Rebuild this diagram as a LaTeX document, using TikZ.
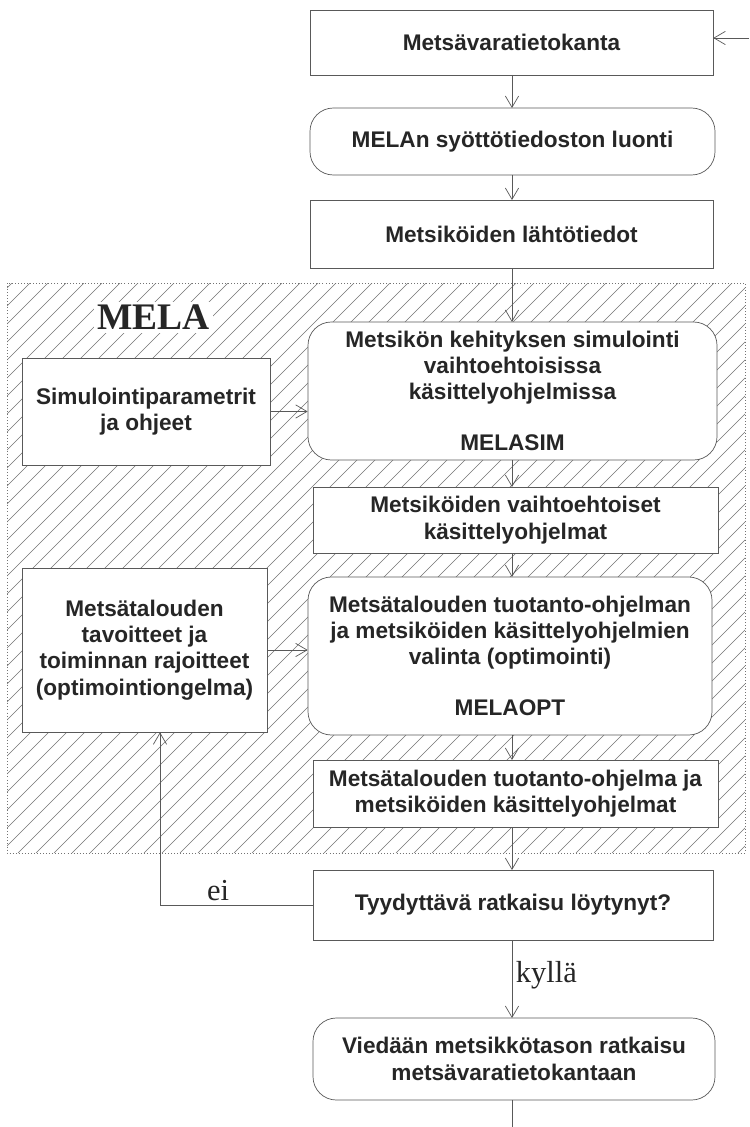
\documentclass[tikz,border=0pt]{standalone}
\usepackage{fontspec}
\setmainfont{Liberation Serif}
\setsansfont{Liberation Sans}
\usepackage{tikz}
\usetikzlibrary{arrows.meta}
\usetikzlibrary{positioning}
\tikzset{>={Straight Barb[length=3.4mm,width=4mm]}}
\tikzset{
  box/.style = {rectangle, draw=black!65, fill=white, line width=0.6pt, inner sep=0pt,
                align=center, text=black!85,
                font=\sffamily\bfseries\fontsize{19.3}{22.5}\selectfont},
  rbox/.style = {box, rounded corners=0.7cm},
  arr/.style = {->, draw=black!65, line width=0.6pt},
  hatch/.style = {draw=black!55, line width=0.5pt},
  lbl/.style = {font=\fontsize{26}{28}\selectfont, text=black!85, inner sep=3pt}
}

\begin{document}
\begin{tikzpicture}[x=0.03cm, y=-0.03cm]
\useasboundingbox (0,0) rectangle (749,1127);

% MELA area
\begin{scope}
\clip (7,283) rectangle (745,853);
\foreach \i in {-34,...,42}
  \draw [hatch] (\i*18, 853) -- ++(600,-600);
\end{scope}
\draw [draw=black!55, dotted, line width=0.6pt] (7,283) rectangle (745,853);
\node [fill=white, inner sep=3pt, text=black!85, font=\bfseries\fontsize{32}{34}\selectfont] (MELA) at (153.5,317.5) {MELA};

\node [box, minimum width=12.09cm, minimum height=1.95cm] (DB) at (511.5,42.5) {Metsävaratietokanta};
\node [rbox, minimum width=12.15cm, minimum height=2.01cm] (IN) at (512.5,141.5) {MELAn syöttötiedoston luonti};
\node [box, minimum width=12.09cm, minimum height=2.04cm] (LT) at (511.5,234) {Metsiköiden lähtötiedot};
\node [rbox, minimum width=12.27cm, minimum height=4.14cm] (SIM) at (512.5,391)
  {Metsikön kehityksen simulointi\\vaihtoehtoisissa\\käsittelyohjelmissa\\[21pt]MELASIM};
\node [box, minimum width=7.44cm, minimum height=3.21cm] (PAR) at (146,411.5)
  {Simulointiparametrit\\ja ohjeet};
\node [box, minimum width=12.15cm, minimum height=1.98cm] (VO) at (515.5,520)
  {Metsiköiden vaihtoehtoiset\\käsittelyohjelmat};
\node [rbox, minimum width=12.12cm, minimum height=4.74cm] (OPT) at (510,656)
  {Metsätalouden tuotanto-ohjelman\\ja metsiköiden käsittelyohjelmien\\valinta (optimointi)\\[21pt]MELAOPT};
\node [box, minimum width=7.35cm, minimum height=4.92cm] (TAV) at (144.5,650)
  {Metsätalouden\\tavoitteet ja\\toiminnan rajoitteet\\(optimointiongelma)};
\node [box, minimum width=12.15cm, minimum height=2.01cm] (TO) at (515.5,793.5)
  {Metsätalouden tuotanto-ohjelma ja\\metsiköiden käsittelyohjelmat};
\node [box, minimum width=12.0cm, minimum height=2.1cm] (OK) at (513,905)
  {Tyydyttävä ratkaisu löytynyt?};
\node [rbox, minimum width=12.06cm, minimum height=2.46cm] (EX) at (514,1059)
  {Viedään metsikkötason ratkaisu\\metsävaratietokantaan};

\coordinate (in) at (749,38);
\coordinate (out) at (512,1127);
\coordinate (loop) at (160,903);

\draw [arr] (in) -- (DB.east |- in);
\draw [arr] (512,75) -- (512,108);
\draw [arr] (512,175) -- (512,200);
\draw [arr] (512,268) -- (512,322);
\draw [arr] (PAR.east) -- (PAR.east -| SIM.west);
\draw [arr] (512,460) -- (512,487);
\draw [arr] (512,553) -- (512,577);
\draw [arr] (TAV.east) -- (TAV.east -| OPT.west);
\draw [arr] (512,735) -- (512,760);
\draw [arr] (512,827) -- (512,870);
\draw [arr] (OK.west) -- (OK.west -| loop) node [lbl, pos=0.62, above] {ei} -- (loop |- TAV.south);
\draw [arr] (512,940) -- node [lbl, pos=0.45, right] {kyllä} (512,1018);
\draw [draw=black!65, line width=0.6pt] (512,1100) -- (out);
\end{tikzpicture}
\end{document}
